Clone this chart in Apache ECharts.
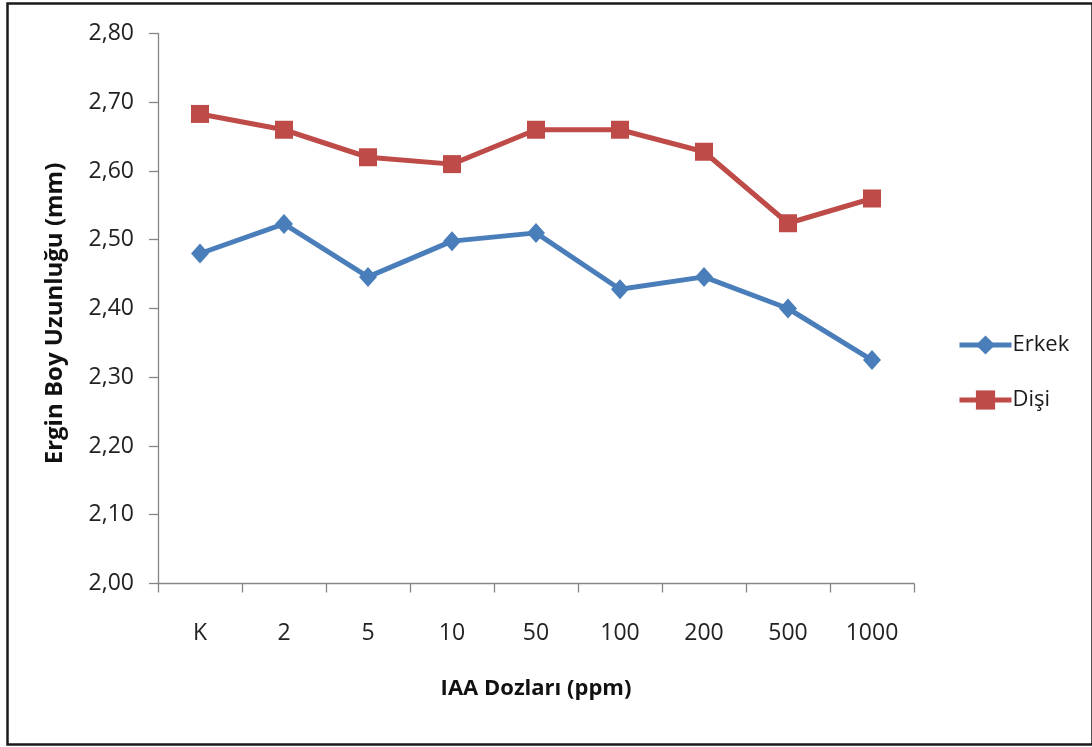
<!DOCTYPE html>
<html>
<head>
<meta charset="utf-8">
<script src="https://cdn.jsdelivr.net/npm/echarts@6/dist/echarts.min.js"></script>
<style>
  html, body { margin: 0; padding: 0; background: #fff; }
  #chart { width: 1092px; height: 747px; }
</style>
</head>
<body>
<div id="chart"></div>
<script>
// IAA doses (ppm), K = control
const doses = ['K', '2', '5', '10', '50', '100', '200', '500', '1000'];
// Adult body length (mm)
const erkek = [2.48, 2.523, 2.446, 2.498, 2.51, 2.428, 2.446, 2.40, 2.325];
const disi = [2.683, 2.66, 2.62, 2.61, 2.66, 2.66, 2.628, 2.524, 2.56];
const seriesNames = ['Erkek', 'Dişi'];

const FONT = '"Open Sans", "DejaVu Sans", sans-serif';
const chart = echarts.init(document.getElementById('chart'), null, { renderer: 'canvas' });

chart.setOption({
  backgroundColor: '#ffffff',
  animation: false,
  textStyle: { fontFamily: FONT },
  grid: { left: 158, top: 33.5, right: 178, bottom: 163.5, containLabel: false },
  graphic: [{
    type: 'rect',
    left: 5, top: 1,
    shape: { width: 1085, height: 741 },
    style: { fill: 'none', stroke: '#1a1a1a', lineWidth: 2.5 },
    silent: true
  }],
  legend: {
    orient: 'vertical',
    left: 952,
    top: 329,
    itemWidth: 52,
    itemHeight: 24,
    itemGap: 33,
    data: seriesNames,
    lineStyle: { width: 5 },
    textStyle: { fontFamily: FONT, fontSize: 22, color: '#1a1a1a', padding: [0, 0, 0, -4] }
  },
  xAxis: {
    type: 'category',
    data: doses,
    boundaryGap: true,
    name: 'IAA Dozları (ppm)',
    nameLocation: 'middle',
    nameGap: 94,
    nameTextStyle: { fontFamily: FONT, fontSize: 22, fontWeight: 'bold', color: '#111' },
    axisLine: { lineStyle: { color: '#868686', width: 1.3 } },
    axisTick: { show: true, length: 9, alignWithLabel: false, lineStyle: { color: '#868686', width: 1.3 } },
    axisLabel: { margin: 38, fontSize: 23, color: '#222', fontFamily: FONT },
    splitLine: { show: false }
  },
  yAxis: {
    type: 'value',
    min: 2.0,
    max: 2.8,
    interval: 0.1,
    name: 'Ergin Boy Uzunluğu (mm)',
    nameLocation: 'middle',
    nameGap: 91,
    nameRotate: 90,
    nameTextStyle: {
      fontFamily: FONT, fontSize: 24, fontWeight: 'bold', color: '#111',
      padding: [0, 10, 0, 0]
    },
    axisLine: { show: true, lineStyle: { color: '#868686', width: 1.3 } },
    axisTick: { show: true, length: 9, lineStyle: { color: '#868686', width: 1.3 } },
    axisLabel: {
      margin: 24, fontSize: 23, color: '#222', fontFamily: FONT,
      formatter: v => v.toFixed(2).replace('.', ',')
    },
    splitLine: { show: false }
  },
  series: [
    {
      name: seriesNames[0],
      type: 'line',
      data: erkek,
      symbol: 'diamond',
      symbolSize: [18, 20],
      color: '#4A7EBB',
      lineStyle: { color: '#4A7EBB', width: 5 },
      itemStyle: { color: '#4A7EBB' }
    },
    {
      name: seriesNames[1],
      type: 'line',
      data: disi,
      symbol: 'rect',
      symbolSize: 18,
      color: '#BE4B48',
      lineStyle: { color: '#BE4B48', width: 5 },
      itemStyle: { color: '#BE4B48' }
    }
  ]
});
</script>
</body>
</html>
